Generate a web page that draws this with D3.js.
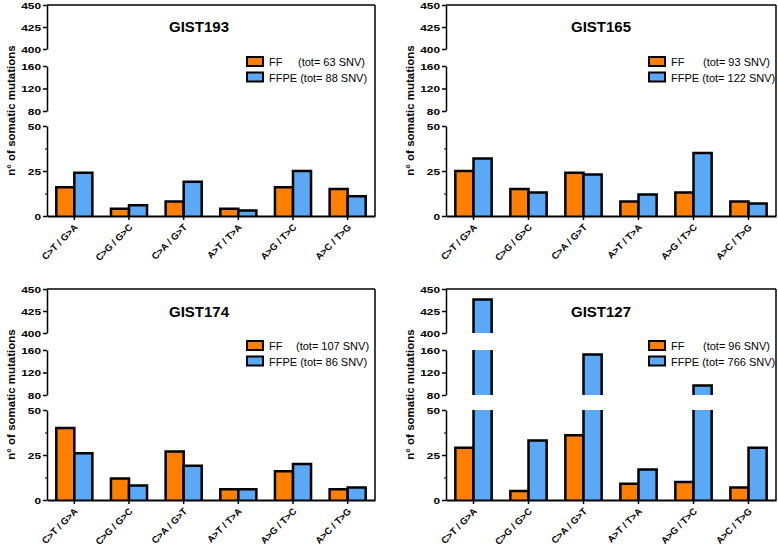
<!DOCTYPE html>
<html><head><meta charset="utf-8">
<script src="https://cdn.jsdelivr.net/npm/d3@7"></script>
<style>body{margin:0;background:#fff}svg{display:block}text{font-family:"Liberation Sans",Arial,sans-serif}</style>
</head><body>
<svg id="c" width="778" height="549"></svg>
<script>
const categories = ["C>T / G>A","C>G / G>C","C>A / G>T","A>T / T>A","A>G / T>C","A>C / T>G"];
const series = ["FF","FFPE"];
const titles = ["GIST193","GIST165","GIST174","GIST127"];
const ffTotals = [63, 93, 107, 96];
const ffpeTotals = [88, 122, 86, 766];
const gist193FF   = [16, 4, 8, 4, 16, 15];
const gist193FFPE = [24, 6, 19, 3, 25, 11];
const gist165FF   = [25, 15, 24, 8, 13, 8];
const gist165FFPE = [32, 13, 23, 12, 35, 7];
const gist174FF   = [40, 12, 27, 6, 16, 6];
const gist174FFPE = [26, 8, 19, 6, 20, 7];
const gist127FF   = [29, 5, 36, 9, 10, 7];
const gist127FFPE = [438, 33, 152, 17, 97, 29];
const segments = [[0,50],[80,160],[400,450]];
const segTicks = [[0,25,50],[80,120,160],[400,425,450]];
const minorTicks = [12.5, 37.5];
const colors = {FF:"#FF8000", FFPE:"#5AA8F6"};

const panelData = [
  [gist193FF, gist193FFPE],[gist165FF, gist165FFPE],
  [gist174FF, gist174FFPE],[gist127FF, gist127FFPE]
];
const layouts = [
  {ax:47, rx:375, ys:[[216,126],[111,66],[49,5]], tx:199, ty:32, lx:247, ly:57, tot:298},
  {ax:446, rx:776, ys:[[216,126],[111,66],[49,5]], tx:601, ty:32, lx:649, ly:57, tot:703},
  {ax:47, rx:375, ys:[[500,410],[395,350],[333,289]], tx:199, ty:317, lx:247, ly:341, tot:296},
  {ax:446, rx:776, ys:[[500,410],[395,350],[333,289]], tx:601, ty:317, lx:649, ly:341, tot:703}
];
const svg = d3.select("#c");

panelData.forEach((pd, pi) => {
  const L = layouts[pi];
  const g = svg.append("g");
  const ySc = segments.map((s,i)=>d3.scaleLinear().domain(s).range(L.ys[i]));
  const x = d3.scaleBand().domain(categories).range([L.ax, L.rx]).paddingInner(0.34).paddingOuter(0.17);
  const xs = d3.scaleBand().domain(series).range([0, x.bandwidth()]);

  // bars
  categories.forEach((c, ci) => {
    series.forEach((s, si) => {
      const v = pd[si][ci];
      const x0 = x(c) + xs(s), w = xs.bandwidth();
      segments.forEach((seg, k) => {
        if (k > 0 && v <= seg[0]) return;
        const sc = ySc[k];
        const top = Math.min(v, seg[1]);
        const yb = sc(seg[0]), yt = sc(top);
        g.append("rect").attr("x", x0).attr("y", yt).attr("width", w).attr("height", yb - yt)
          .attr("fill", colors[s]);
        const path = d3.path();
        path.moveTo(x0, yb); path.lineTo(x0, yt);
        if (v <= seg[1]) { path.lineTo(x0 + w, yt); } else { path.moveTo(x0 + w, yt); }
        path.lineTo(x0 + w, yb);
        g.append("path").attr("d", path.toString()).attr("fill","none").attr("stroke","#000")
          .attr("stroke-width",2.5).attr("stroke-linejoin","miter");
      });
    });
  });

  // frame: top and right
  g.append("line").attr("x1", L.ax).attr("x2", L.rx).attr("y1", L.ys[2][1]).attr("y2", L.ys[2][1]).attr("stroke","#000").attr("stroke-width",1.5);
  g.append("line").attr("x1", L.rx).attr("x2", L.rx).attr("y1", L.ys[2][1]).attr("y2", L.ys[0][0]).attr("stroke","#000").attr("stroke-width",1.5);

  // y axes per segment
  segments.forEach((seg, k) => {
    const ag = g.append("g").attr("transform", `translate(${L.ax},0)`)
      .call(d3.axisLeft(ySc[k]).tickValues(segTicks[k]).tickSize(4).tickPadding(2).tickSizeOuter(0));
    ag.select(".domain").attr("stroke-width",1.5);
    ag.selectAll(".tick line").attr("stroke-width",1.5);
    ag.selectAll("text").attr("font-size",9.5).attr("font-weight","bold").attr("fill","#000")
      .each(function(){
        const t = d3.select(this);
        const len = this.getComputedTextLength();
        t.attr("textLength", len * 1.25).attr("lengthAdjust","spacingAndGlyphs");
      });
    if (k === 0) {
      const mg = g.append("g").attr("transform", `translate(${L.ax},0)`)
        .call(d3.axisLeft(ySc[0]).tickValues(minorTicks).tickSize(2).tickFormat(""));
      mg.select(".domain").remove();
      mg.selectAll(".tick line").attr("stroke-width",1);
    }
  });

  // x axis
  const xa = g.append("g").attr("transform", `translate(0,${L.ys[0][0]})`)
    .call(d3.axisBottom(x).tickSize(4).tickSizeOuter(0));
  xa.select(".domain").attr("stroke-width",2);
  xa.selectAll(".tick line").attr("stroke-width",1.5);
  xa.selectAll("text").attr("font-size",9.5).attr("font-weight","bold").attr("fill","#000")
    .attr("text-anchor","end").attr("dy",0).attr("y",0)
    .attr("transform","translate(4,12) rotate(-45)");

  // title
  g.append("text").attr("x", L.tx).attr("y", L.ty).attr("text-anchor","middle")
    .attr("font-size",15).attr("font-weight","bold").text(titles[pi]);

  // legend
  series.forEach((s, si) => {
    const yy = L.ly + si * 15.5;
    g.append("rect").attr("x", L.lx).attr("y", yy).attr("width", 16).attr("height", 9)
      .attr("fill", colors[s]).attr("stroke","#000").attr("stroke-width",2);
    const tot = si === 0 ? ffTotals[pi] : ffpeTotals[pi];
    if (si === 0) {
      g.append("text").attr("x", L.lx + 22).attr("y", yy + 9).attr("font-size", 11).text(s);
      g.append("text").attr("x", L.tot).attr("y", yy + 9).attr("font-size", 11).text(`(tot= ${tot} SNV)`);
    } else {
      g.append("text").attr("x", L.lx + 22).attr("y", yy + 9).attr("font-size", 11).attr("xml:space","preserve")
        .text(`${s} (tot= ${tot} SNV)`);
    }
  });

  // y title
  const ymid = (L.ys[0][0] + L.ys[2][1]) / 2;
  g.append("text").attr("transform", `translate(${L.ax - 32},${ymid}) rotate(-90)`)
    .attr("text-anchor","middle").attr("font-size",11.5).attr("font-weight","bold")
    .text("n° of somatic mutations");
});
</script>
</body></html>
